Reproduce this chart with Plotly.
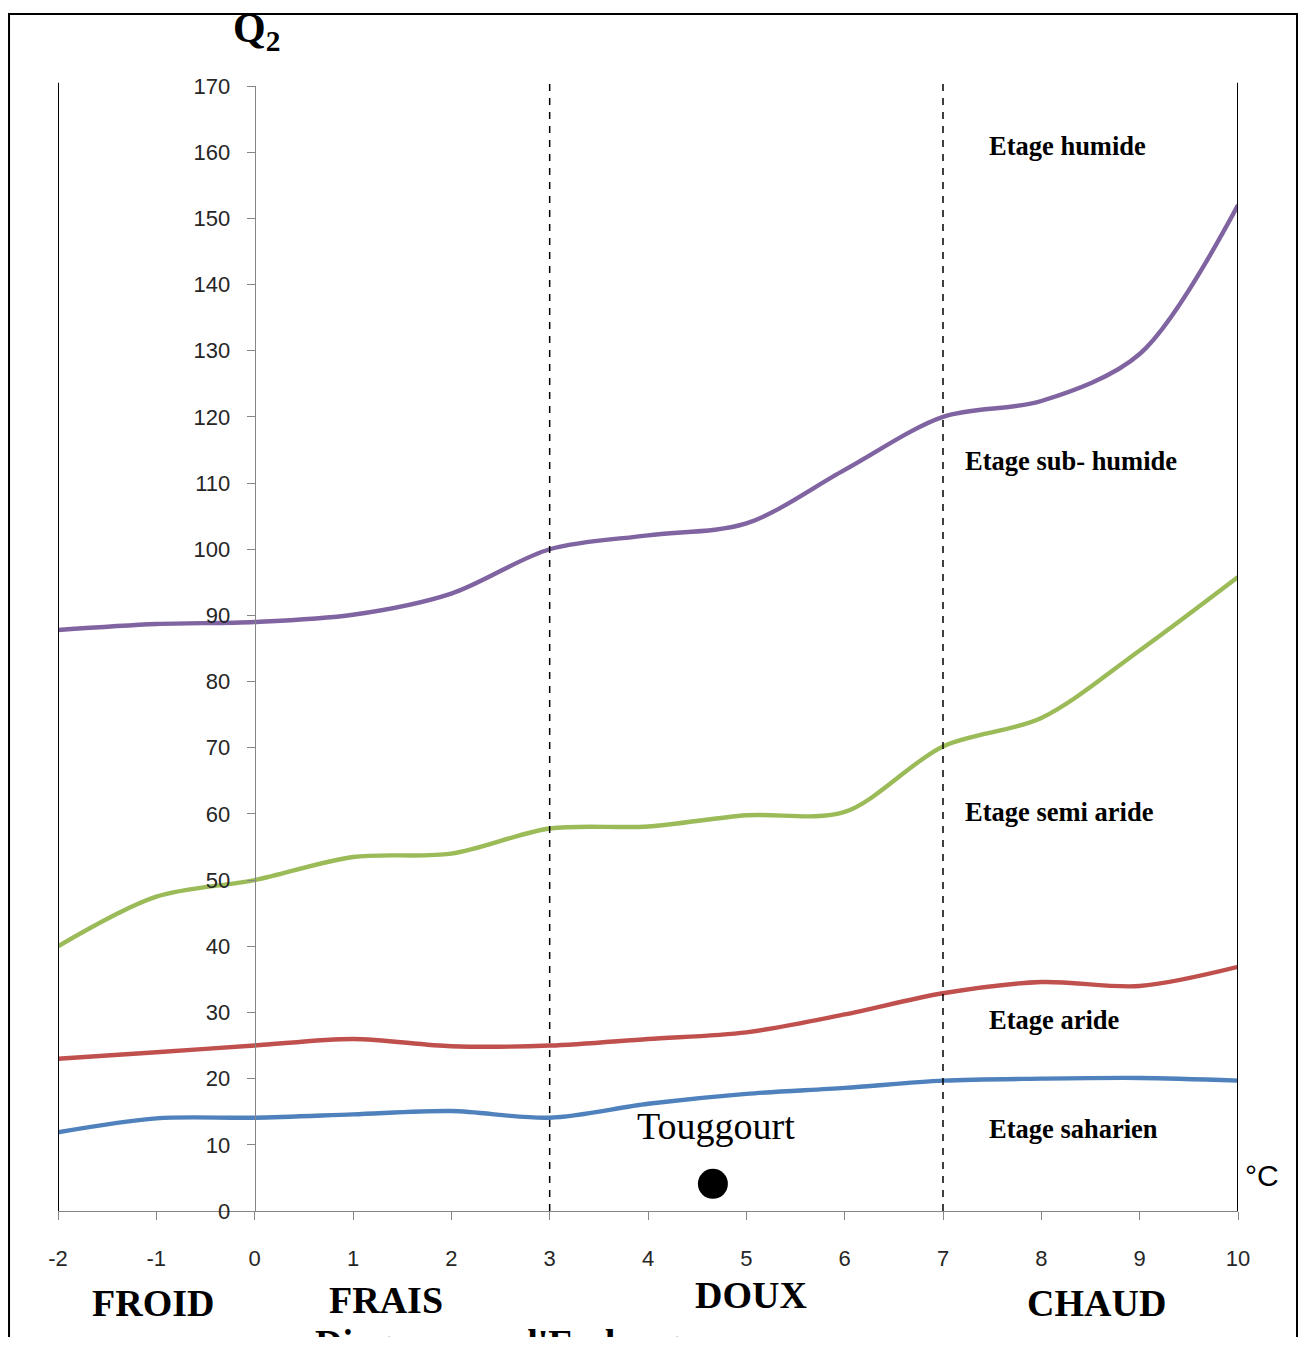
import plotly.graph_objects as go

# ---- data ----
temp_m = [-2, -1, 0, 1, 2, 3, 4, 5, 6, 7, 8, 9, 10]
q2_humide = [87.8, 88.7, 89.0, 90.1, 93.3, 100.0, 102.1, 103.9, 112.0, 120.0, 122.4, 129.5, 152.0]
q2_subhumide = [40.0, 47.5, 50.0, 53.5, 54.0, 57.8, 58.1, 59.8, 60.3, 70.2, 74.5, 84.7, 95.8]
q2_semiaride = [23.0, 24.0, 25.0, 26.0, 24.9, 25.0, 26.0, 27.0, 29.7, 32.9, 34.6, 34.0, 36.9]
q2_aride = [11.9, 14.0, 14.1, 14.6, 15.1, 14.1, 16.2, 17.7, 18.6, 19.7, 20.0, 20.1, 19.7]

station_name = ["Touggourt"]
station_m = [4.66]
station_q2 = [4.1]

x_ticks = [-2, -1, 0, 1, 2, 3, 4, 5, 6, 7, 8, 9, 10]
y_ticks = [0, 10, 20, 30, 40, 50, 60, 70, 80, 90, 100, 110, 120, 130, 140, 150, 160, 170]
zone_limits_solid = [-2, 10]
zone_limits_dashed = [3, 7]

zone_names = ["FROID", "FRAIS", "DOUX", "CHAUD"]
zone_x_paper = [0.0805, 0.2780, 0.5873, 0.8805]
zone_y_paper = [-0.0818, -0.0791, -0.0747, -0.0818]

etage_names = ["Etage humide", "Etage sub- humide", "Etage semi aride", "Etage aride", "Etage saharien"]
etage_x = [7.45, 7.20, 7.20, 7.45, 7.45]
etage_y = [160.9, 113.3, 60.3, 28.9, 12.4]

colors = ["#8064A2", "#9BBB59", "#C0504D", "#4F81BD"]
series = [q2_humide, q2_subhumide, q2_semiaride, q2_aride]

SERIF = "Liberation Serif, Times New Roman, serif"
SANS = "Liberation Sans, Arial, sans-serif"

fig = go.Figure()
for vals, col in zip(series, colors):
    fig.add_trace(go.Scatter(
        x=temp_m, y=vals, mode="lines",
        line=dict(color=col, width=4.4, shape="spline", smoothing=0.9),
        showlegend=False, hoverinfo="skip"))

fig.add_trace(go.Scatter(
    x=station_m, y=station_q2, mode="markers",
    marker=dict(color="black", size=30),
    showlegend=False, hoverinfo="skip"))

shapes = []
for xv in zone_limits_solid:
    shapes.append(dict(type="line", xref="x", yref="paper", x0=xv, x1=xv, y0=0, y1=1.003,
                       line=dict(color="black", width=2)))
for xv in zone_limits_dashed:
    shapes.append(dict(type="line", xref="x", yref="paper", x0=xv, x1=xv, y0=0, y1=1.003,
                       line=dict(color="black", width=1.5, dash="7px,7px")))
# outer frame
shapes.append(dict(type="rect", xref="paper", yref="paper",
                   x0=-0.0415, x1=1.0500, y0=-0.13, y1=1.064,
                   line=dict(color="black", width=2), fillcolor="rgba(0,0,0,0)", layer="above"))

annotations = []
for name, xv, yv in zip(etage_names, etage_x, etage_y):
    annotations.append(dict(x=xv, y=yv, xref="x", yref="y", text=name, showarrow=False,
                            xanchor="left", yanchor="middle",
                            font=dict(family=SERIF, size=26.5, color="black", weight="bold")))
for name, xv, yv in zip(station_name, station_m, [12.8]):
    annotations.append(dict(x=xv + 0.03, y=yv, xref="x", yref="y", text=name, showarrow=False,
                            xanchor="center", yanchor="middle",
                            font=dict(family=SERIF, size=38, color="black")))
for name, xv, yv in zip(zone_names, zone_x_paper, zone_y_paper):
    annotations.append(dict(x=xv, y=yv, xref="paper", yref="paper", text=name, showarrow=False,
                            xanchor="center", yanchor="middle",
                            font=dict(family=SERIF, size=38, color="black", weight="bold")))
annotations.append(dict(x=0.2165, y=-0.097, xref="paper", yref="paper", text="Diagramme d'Emberger",
                        showarrow=False, xanchor="left", yanchor="top",
                        font=dict(family=SERIF, size=38, color="black", weight="bold")))
annotations.append(dict(x=0.1678, y=1.049, xref="paper", yref="paper", text="Q<sub>2</sub>",
                        showarrow=False, xanchor="center", yanchor="middle",
                        font=dict(family=SERIF, size=42, color="black", weight="bold")))
annotations.append(dict(x=1.0042, y=0.0316, xref="paper", yref="paper", text="°C",
                        showarrow=False, xanchor="left", yanchor="middle",
                        font=dict(family=SANS, size=30, color="black")))

fig.update_layout(
    width=1298, height=1329,
    margin=dict(l=50, r=68, t=78, b=126, pad=0),
    paper_bgcolor="white", plot_bgcolor="white",
    shapes=shapes, annotations=annotations,
    showlegend=False,
    xaxis=dict(range=[-2, 10], tickvals=x_ticks, ticktext=[str(v) for v in x_ticks],
               showgrid=False, zeroline=False, showline=True, linecolor="#868686", linewidth=1,
               ticks="outside", ticklen=8, tickcolor="#868686", tickwidth=1,
               ticklabelstandoff=20,
               tickfont=dict(family=SANS, size=22, color="#262626")),
    yaxis=dict(range=[0, 170], tickvals=y_ticks, ticktext=[str(v) for v in y_ticks],
               anchor="free", position=2 / 12,
               showgrid=False, zeroline=False, showline=True, linecolor="#868686", linewidth=1,
               ticks="outside", ticklen=8, tickcolor="#868686", tickwidth=1,
               ticklabelstandoff=12,
               tickfont=dict(family=SANS, size=22, color="#262626")),
)

fig.write_html("out.html")
